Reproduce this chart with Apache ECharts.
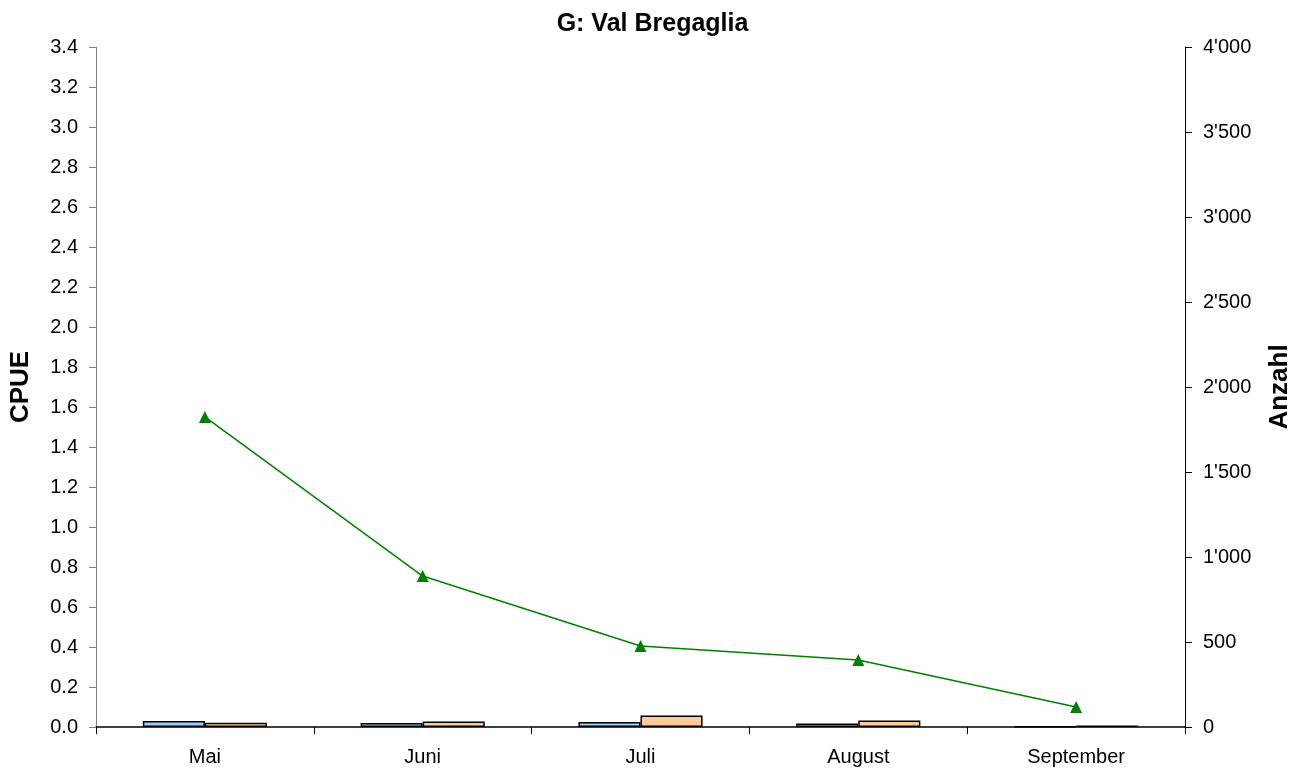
<!DOCTYPE html>
<html>
<head>
<meta charset="utf-8">
<script src="https://cdn.jsdelivr.net/npm/echarts@6/dist/echarts.min.js"></script>
<style>
  html, body { margin: 0; padding: 0; background: #fff; }
  #chart { width: 1305px; height: 772px; }
</style>
</head>
<body>
<div id="chart"></div>
<script>
// Monate
const months = ['Mai', 'Juni', 'Juli', 'August', 'September'];
// CPUE Balken (linke Achse)
const cpueA = [0.030, 0.020, 0.025, 0.018, 0.003];
const cpueB = [0.021, 0.028, 0.058, 0.033, 0.008];
// Anzahl (rechte Achse)
const anzahl = [1824, 888, 476, 394, 118];

const font = 'Liberation Sans, Arial, sans-serif';

const chart = echarts.init(document.getElementById('chart'));
chart.setOption({
    animation: false,
    title: {
        text: 'G: Val Bregaglia',
        left: 'center',
        top: 7,
        textStyle: { fontFamily: font, fontSize: 25, fontWeight: 'bold', color: '#000' }
    },
    grid: { left: 95, right: 120, top: 47, bottom: 45, containLabel: false },
    xAxis: {
        type: 'category',
        data: months,
        axisLine: { lineStyle: { color: '#000', width: 1.5 } },
        axisTick: { show: true, alignWithLabel: false, length: 7, lineStyle: { color: '#000' } },
        axisLabel: { fontFamily: font, fontSize: 20, color: '#000', margin: 20 }
    },
    yAxis: [
        {
            type: 'value',
            min: 0, max: 3.4, interval: 0.2,
            name: 'CPUE',
            nameLocation: 'middle',
            nameGap: 62,
            nameTextStyle: { fontFamily: font, fontSize: 26, fontWeight: 'bold', color: '#000' },
            axisLine: { show: true, lineStyle: { color: '#808080', width: 1 } },
            axisTick: { show: true, length: 7, lineStyle: { color: '#808080' } },
            axisLabel: { fontFamily: font, fontSize: 20, color: '#000', margin: 18,
                formatter: v => v.toFixed(1) },
            splitLine: { show: false }
        },
        {
            type: 'value',
            min: 0, max: 4000, interval: 500,
            name: 'Anzahl',
            nameLocation: 'middle',
            nameGap: 82,
            nameTextStyle: { fontFamily: font, fontSize: 26, fontWeight: 'bold', color: '#000' },
            axisLine: { show: true, lineStyle: { color: '#000', width: 1 } },
            axisTick: { show: true, length: 7, lineStyle: { color: '#000' } },
            axisLabel: { fontFamily: font, fontSize: 20, color: '#000', margin: 18,
                formatter: v => String(v).replace(/\B(?=(\d{3})+(?!\d))/g, "'") },
            splitLine: { show: false }
        }
    ],
    series: [
        {
            type: 'bar',
            data: cpueA,
            yAxisIndex: 0,
            barGap: '0%',
            barCategoryGap: '43%',
            itemStyle: { color: '#99ccff', borderColor: '#000', borderWidth: 1.5 }
        },
        {
            type: 'bar',
            data: cpueB,
            yAxisIndex: 0,
            barGap: '0%',
            barCategoryGap: '43%',
            itemStyle: { color: '#ffcc99', borderColor: '#000', borderWidth: 1.5 }
        },
        {
            type: 'line',
            data: anzahl,
            yAxisIndex: 1,
            symbol: 'triangle',
            symbolSize: 12,
            lineStyle: { color: '#008000', width: 1.5 },
            itemStyle: { color: '#008000' }
        }
    ]
});
</script>
</body>
</html>
